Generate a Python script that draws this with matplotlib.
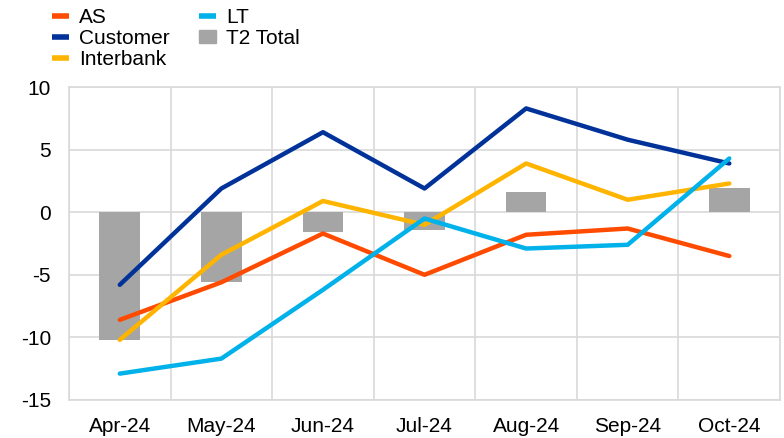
import matplotlib
matplotlib.use("Agg")
import matplotlib.pyplot as plt
import numpy as np
from matplotlib.patches import Patch
from matplotlib.lines import Line2D

plt.rcParams['font.family'] = ['Liberation Sans', 'DejaVu Sans']
plt.rcParams['axes.unicode_minus'] = False

categories = ["Apr-24", "May-24", "Jun-24", "Jul-24", "Aug-24", "Sep-24", "Oct-24"]
as_vals = [-8.6, -5.6, -1.7, -5.0, -1.8, -1.3, -3.5]
customer = [-5.8, 1.9, 6.4, 1.9, 8.3, 5.8, 3.9]
interbank = [-10.2, -3.4, 0.9, -1.0, 3.9, 1.0, 2.3]
lt = [-12.9, -11.7, -6.2, -0.5, -2.9, -2.6, 4.3]
t2_total = [-10.2, -5.6, -1.6, -1.4, 1.6, 0.0, 1.9]

c_as = "#FF4B00"
c_cust = "#003299"
c_inter = "#FFB400"
c_lt = "#00B1EA"
c_t2 = "#A5A5A5"

fs = 15

fig = plt.figure(figsize=(7.84, 4.38), dpi=100)
ax = fig.add_axes([0.088, 0.087, 0.907, 0.714])

x = np.arange(len(categories))
ax.bar(x, t2_total, width=0.4, color=c_t2, zorder=2)
lw = 3.2
ax.plot(x, as_vals, color=c_as, lw=lw, zorder=3, solid_capstyle='round')
ax.plot(x, customer, color=c_cust, lw=lw, zorder=3, solid_capstyle='round')
ax.plot(x, interbank, color=c_inter, lw=lw, zorder=3, solid_capstyle='round')
ax.plot(x, lt, color=c_lt, lw=lw, zorder=4, solid_capstyle='round')

ax.set_xlim(-0.5, len(categories) - 0.5)
ax.set_ylim(-15, 10)
ax.set_yticks([-15, -10, -5, 0, 5, 10])
ax.set_xticks(x)
ax.set_xticklabels(categories)
ax.set_xticks(np.arange(-0.5, len(categories), 1.0), minor=True)
ax.tick_params(axis='both', which='both', length=0, labelsize=fs, colors='black')
ax.tick_params(axis='x', pad=12)
ax.tick_params(axis='y', pad=13)
ax.grid(False)
ax.grid(True, axis='y', which='major', color='#D9D9D9', lw=1.2, zorder=0)
ax.grid(True, axis='x', which='minor', color='#D9D9D9', lw=1.2, zorder=0)
for s in ax.spines.values():
    s.set_color('#D9D9D9')
    s.set_linewidth(1.2)

handles = [
    Line2D([0], [0], color=c_as, lw=4, solid_capstyle='butt'),
    Line2D([0], [0], color=c_cust, lw=4, solid_capstyle='butt'),
    Line2D([0], [0], color=c_inter, lw=4, solid_capstyle='butt'),
    Line2D([0], [0], color=c_lt, lw=4, solid_capstyle='butt'),
    Patch(color=c_t2),
]
labels = ["AS", "Customer", "Interbank", "LT", "T2 Total"]
fig.legend(handles, labels, loc='upper left', bbox_to_anchor=(0.048, 1.016), ncol=2,
           frameon=False, fontsize=fs, handlelength=0.82, handleheight=0.6,
           handletextpad=0.48, labelspacing=0.1, columnspacing=1.4,
           borderaxespad=0.3)

fig.savefig("out.png", dpi=100)
